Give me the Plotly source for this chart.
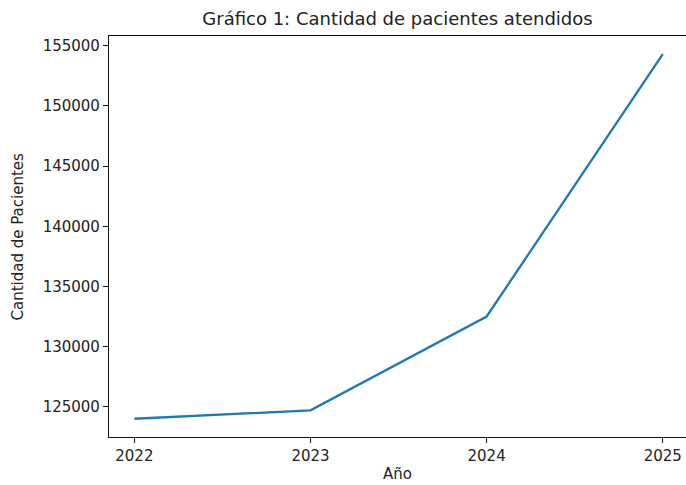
import plotly.graph_objects as go

anios = [2022, 2023, 2024, 2025]
pacientes = [124000, 124700, 132500, 154300]
y_ticks = [125000, 130000, 135000, 140000, 145000, 150000, 155000]

W, H = 686, 485
L, R, T, B = 109, 0, 36, 48
FONT = "DejaVu Sans"
TXT = "#222222"

fig = go.Figure()
fig.add_trace(go.Scatter(
    x=anios, y=pacientes, mode="lines",
    line=dict(color="#1f77b4", width=2.3),
    hoverinfo="x+y", showlegend=False,
))

fig.update_layout(
    width=W, height=H, autosize=False,
    margin=dict(l=L, r=R, t=T, b=B, pad=0),
    paper_bgcolor="white", plot_bgcolor="white",
    font=dict(family=FONT, size=15, color=TXT),
    title=dict(text="Gráfico 1: Cantidad de pacientes atendidos",
               x=(L + (W - R)) / 2 / W, xanchor="center", xref="container",
               y=1 - 19 / H, yanchor="middle", yref="container",
               font=dict(family=FONT, size=18, color=TXT)),
    xaxis=dict(range=[2021.856, 2025.132], tickvals=anios,
               ticktext=[str(a) for a in anios],
               showgrid=False, zeroline=False,
               showline=True, linecolor="#111111", linewidth=1.2, mirror=True,
               ticks="outside", ticklen=5, tickwidth=1.2, tickcolor="#111111",
               tickfont=dict(family=FONT, size=15, color=TXT)),
    yaxis=dict(range=[122485, 155815], tickvals=y_ticks,
               ticktext=[str(v) for v in y_ticks],
               showgrid=False, zeroline=False,
               showline=True, linecolor="#111111", linewidth=1.2, mirror=False,
               ticks="outside", ticklen=5, tickwidth=1.2, tickcolor="#111111",
               tickfont=dict(family=FONT, size=15, color=TXT)),
    annotations=[
        dict(text="Año", xref="paper", yref="paper", x=0.5, y=0,
             xanchor="center", yanchor="middle", yshift=-37, showarrow=False,
             font=dict(family=FONT, size=15, color=TXT)),
        dict(text="Cantidad de Pacientes", xref="paper", yref="paper", x=0, y=0.5,
             xanchor="center", yanchor="middle", xshift=-(L - 17), textangle=-90,
             showarrow=False, font=dict(family=FONT, size=15, color=TXT)),
    ],
)

fig.write_html(
    "out.html",
    config={"displayModeBar": False},
    post_script="document.body.style.margin='0';document.body.style.overflow='hidden';",
)
